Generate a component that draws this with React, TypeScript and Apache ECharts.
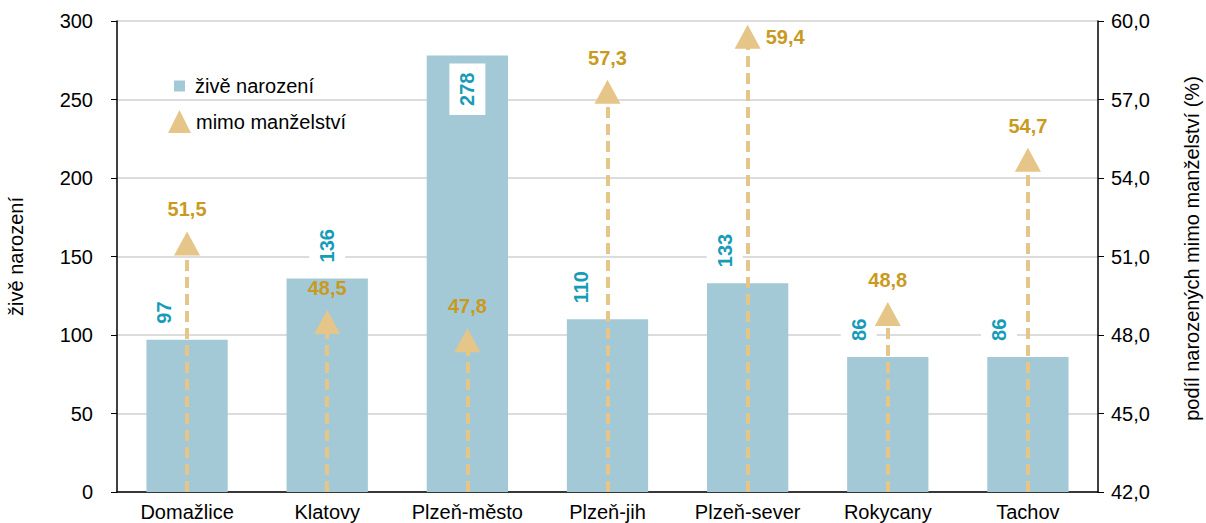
import React, { useEffect, useRef } from "react";
import * as echarts from "echarts";

const categories = ["Domažlice", "Klatovy", "Plzeň-město", "Plzeň-jih", "Plzeň-sever", "Rokycany", "Tachov"];
const births = [97, 136, 278, 110, 133, 86, 86];
const outsideMarriage = [51.5, 48.5, 47.8, 57.3, 59.4, 48.8, 54.7];
const barLabelShift = [-23, 0, 0, -27, -23, -29, -29];
const barLabelInside = [false, false, true, false, false, false, false];
const pctLabelRight = [false, false, false, false, true, false, false];

const FONT = "Liberation Sans";
const BAR = "#a3c9d6";
const TEAL = "#169cb8";
const TAN = "#e6c588";
const GOLD = "#c99a1e";

const fmt = (v: number) => v.toFixed(1).replace(".", ",");

export default function App() {
  const ref = useRef<HTMLDivElement>(null);
  useEffect(() => {
    document.body.style.margin = "0";
    const chart = echarts.init(ref.current!, null, { renderer: "svg" });
    const barData = births.map((v, i) => ({
      value: v,
      label: barLabelInside[i]
        ? {
            position: "insideTop",
            rotate: 90,
            align: "right",
            verticalAlign: "middle",
            distance: 8,
          }
        : {
            position: "top",
            rotate: 90,
            align: "left",
            verticalAlign: "middle",
            distance: 7,
            offset: [0, barLabelShift[i]],
          },
    }));
    const pctData = outsideMarriage.map((v, i) => ({
      value: v,
      label: pctLabelRight[i]
        ? { position: "right", distance: 5 }
        : { position: "top", distance: 12 },
    }));
    chart.setOption({
      animation: false,
      textStyle: { fontFamily: FONT },
      grid: { left: 117, right: 108, top: 21, bottom: 31, outerBoundsMode: "none", containLabel: false },
      legend: [
        {
          data: [{ name: "živě narození", icon: "rect" }],
          orient: "vertical",
          left: 169,
          top: 71,
          itemWidth: 11,
          itemHeight: 11,
          textStyle: { fontSize: 20, color: "#000", fontFamily: FONT, padding: [0, 0, 0, 5] },
        },
        {
          data: [{ name: "mimo manželství", icon: "triangle" }],
          orient: "vertical",
          left: 163,
          top: 105,
          itemWidth: 23,
          itemHeight: 23,
          textStyle: { fontSize: 20, color: "#000", fontFamily: FONT },
        },
      ],
      xAxis: {
        type: "category",
        data: categories,
        axisLine: { lineStyle: { color: "#000", width: 1.5 } },
        axisTick: { show: false },
        axisLabel: { color: "#000", fontSize: 20, margin: 10, interval: 0 },
      },
      yAxis: [
        {
          type: "value",
          min: 0,
          max: 300,
          interval: 50,
          name: "živě narození",
          nameLocation: "middle",
          nameGap: 91,
          nameTextStyle: { fontSize: 20, color: "#000" },
          axisLine: { show: true, lineStyle: { color: "#000", width: 1.5 } },
          axisTick: { show: true, length: 6, lineStyle: { color: "#000" } },
          axisLabel: { color: "#000", fontSize: 20, margin: 24 },
          splitLine: { lineStyle: { color: "#d0d0d0", width: 1.5 } },
        },
        {
          type: "value",
          min: 42,
          max: 60,
          interval: 3,
          name: "podíl narozených mimo manželství (%)",
          nameLocation: "middle",
          nameGap: 84,
          nameRotate: 90,
          nameTextStyle: { fontSize: 20, color: "#000", padding: [0, 0, 0, 16] },
          axisLine: { show: true, lineStyle: { color: "#000", width: 1.5 } },
          axisTick: { show: true, length: 6, lineStyle: { color: "#000" } },
          axisLabel: { color: "#000", fontSize: 20, margin: 13, formatter: (v: number) => fmt(v) },
          splitLine: { show: false },
        },
      ],
      series: [
        {
          name: "živě narození",
          type: "bar",
          data: barData,
          barWidth: "58%",
          itemStyle: { color: BAR },
          label: {
            show: true,
            color: TEAL,
            fontWeight: "bold",
            fontSize: 20,
            backgroundColor: "#fff",
            padding: [8, 9],
          },
          z: 1,
        },
        {
          name: "mimo manželství",
          type: "scatter",
          yAxisIndex: 1,
          symbol: "triangle",
          symbolSize: [26, 24],
          data: pctData,
          itemStyle: { color: TAN, opacity: 1 },
          label: {
            show: true,
            color: GOLD,
            fontWeight: "bold",
            fontSize: 20,
            formatter: (p: any) => fmt(p.value),
          },
          markLine: {
            silent: true,
            symbol: "none",
            label: { show: false },
            lineStyle: { type: [11, 6], width: 4, color: TAN, opacity: 1 },
            data: categories.map((c, i) => [
              { coord: [c, 42] },
              { coord: [c, outsideMarriage[i]] },
            ]),
          },
          z: 3,
        },
      ],
    });
    return () => chart.dispose();
  }, []);
  return <div ref={ref} style={{ position: "absolute", left: 0, top: 0, width: 1206, height: 523 }} />;
}
